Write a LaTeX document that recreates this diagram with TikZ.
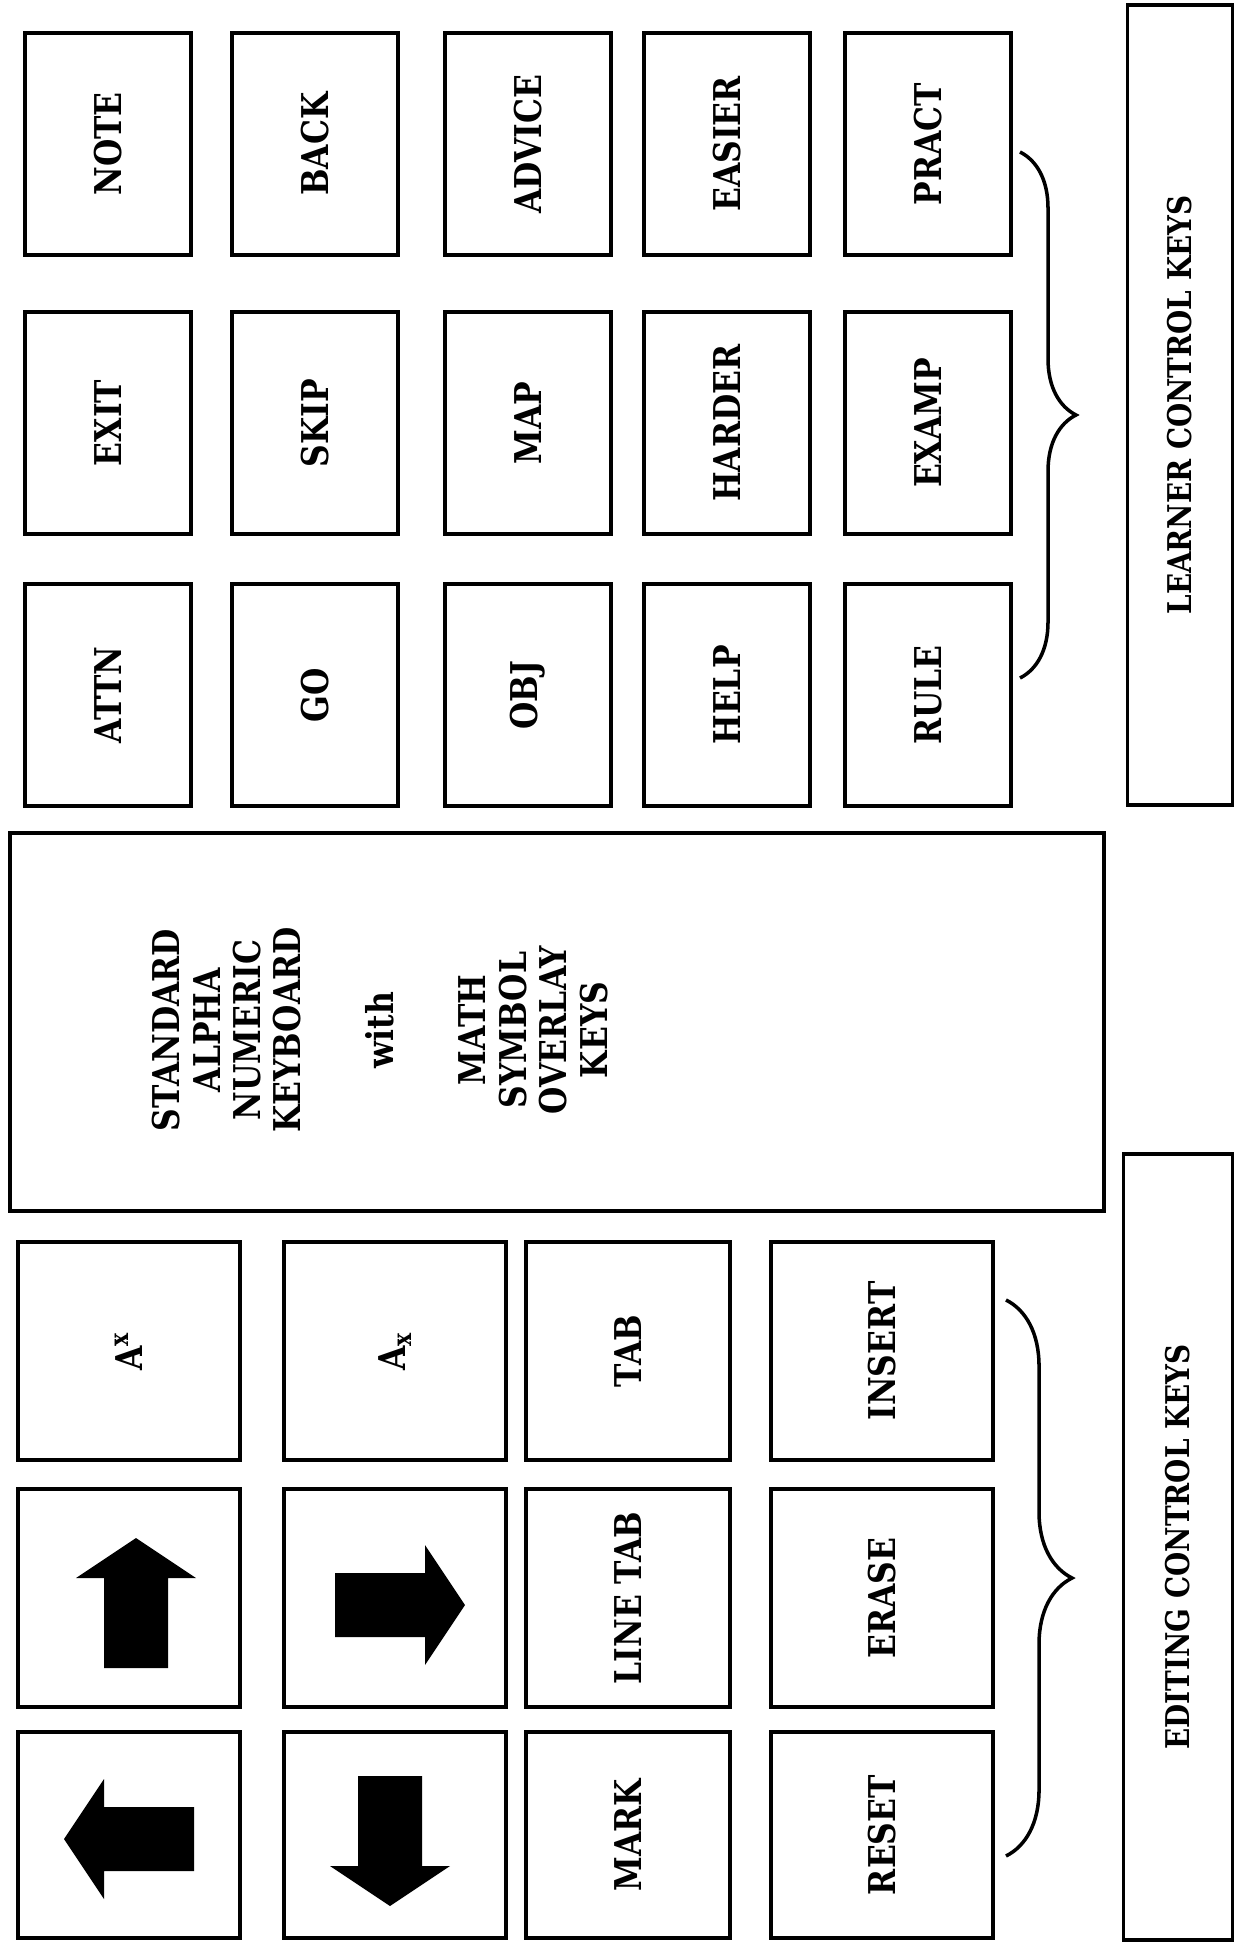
\documentclass[tikz,border=0pt]{standalone}
\usepackage{fontspec}
\newfontfamily\keyfont{DejaVu Serif}[FakeStretch=0.85]
\usepackage{tikz}
\usetikzlibrary{decorations.pathreplacing}

% solid block arrow on a cursor key
\newcommand{\keyarrow}[2]{%
  \fill[shift={#1}, rotate=#2] (-65,-32) -- (25,-32) -- (25,-60) -- (65,0)
    -- (25,60) -- (25,32) -- (-65,32) -- cycle;}

\begin{document}
\begin{tikzpicture}[x=0.01cm, y=-0.01cm,
    lkey/.style={draw, line width=1.1pt, rotate=90, minimum width=2.22cm,
      minimum height=1.66cm, font=\keyfont\bfseries\fontsize{10.5}{12}\selectfont},
    ekey/.style={lkey, minimum width=2.18cm, minimum height=2.22cm},
    lbl/.style={draw, line width=1.1pt, rotate=90,
      font=\keyfont\bfseries\fontsize{9.3}{11}\selectfont},
    curly/.style={decorate, decoration={brace, amplitude=#1}, line width=1pt}]
    \useasboundingbox (0,0) rectangle (1241,1942);
    % learner control keys
    \node[lkey] (note)   at (108,144) {NOTE};
    \node[lkey] (exit)   at (108,423) {EXIT};
    \node[lkey] (attn)   at (108,695) {ATTN};
    \node[lkey] (back)   at (315,144) {BACK};
    \node[lkey] (skip)   at (315,423) {SKIP};
    \node[lkey] (go)     at (315,695) {GO};
    \node[lkey] (advice) at (528,144) {ADVICE};
    \node[lkey] (map)    at (528,423) {MAP};
    \node[lkey] (obj)    at (528,695) {OBJ};
    \node[lkey] (easier) at (727,144) {EASIER};
    \node[lkey] (harder) at (727,423) {HARDER};
    \node[lkey] (help)   at (727,695) {HELP};
    \node[lkey] (pract)  at (928,144) {PRACT};
    \node[lkey] (examp)  at (928,423) {EXAMP};
    \node[lkey] (rule)   at (928,695) {RULE};
    \coordinate (lbtop) at (1020,152);
    \coordinate (lbbot) at (1020,678);
    \draw[curly=0.56cm] (lbtop) -- (lbbot);
    \node[lbl, minimum width=8.0cm, minimum height=1.05cm] (learner) at (1180,405)
        {LEARNER CONTROL KEYS};

    % keyboard
    \node[draw, line width=1.1pt, minimum width=10.94cm, minimum height=3.78cm]
        (kbd) at (557,1022) {};
    \node[rotate=90, align=center, font=\keyfont\bfseries\fontsize{10.5}{11.5}\selectfont]
        (kbdtext) at (380,1030)
        {STANDARD\\ALPHA\\NUMERIC\\KEYBOARD\\[0.52cm]with\\[0.52cm]MATH\\SYMBOL\\OVERLAY\\KEYS};

    % editing control keys
    \node[ekey] (super)   at (129,1351) {A\textsuperscript{x}};
    \node[ekey] (upkey)   at (129,1598) {};
    \node[ekey, minimum width=2.06cm] (leftkey) at (129,1835) {};
    \node[ekey] (sub)     at (395,1351) {A\textsubscript{x}};
    \node[ekey] (rightkey) at (395,1598) {};
    \node[ekey, minimum width=2.06cm] (downkey) at (395,1835) {};
    \node[ekey, minimum height=2.04cm] (tab)     at (628,1351) {TAB};
    \node[ekey, minimum height=2.04cm] (linetab) at (628,1598) {LINE TAB};
    \node[ekey, minimum height=2.04cm, minimum width=2.06cm] (mark) at (628,1835) {MARK};
    \node[ekey] (insert)  at (882,1351) {INSERT};
    \node[ekey] (erase)   at (882,1598) {ERASE};
    \node[ekey, minimum width=2.06cm] (reset) at (882,1835) {RESET};
    \keyarrow{(136,1603)}{90}
    \keyarrow{(400,1605)}{0}
    \keyarrow{(129,1839)}{180}
    \keyarrow{(390,1841)}{-90}
    \coordinate (ebtop) at (1006,1300);
    \coordinate (ebbot) at (1006,1856);
    \draw[curly=0.66cm] (ebtop) -- (ebbot);
    \node[lbl, minimum width=7.85cm, minimum height=1.09cm] (editing) at (1178,1547)
        {EDITING CONTROL KEYS};
\end{tikzpicture}
\end{document}
